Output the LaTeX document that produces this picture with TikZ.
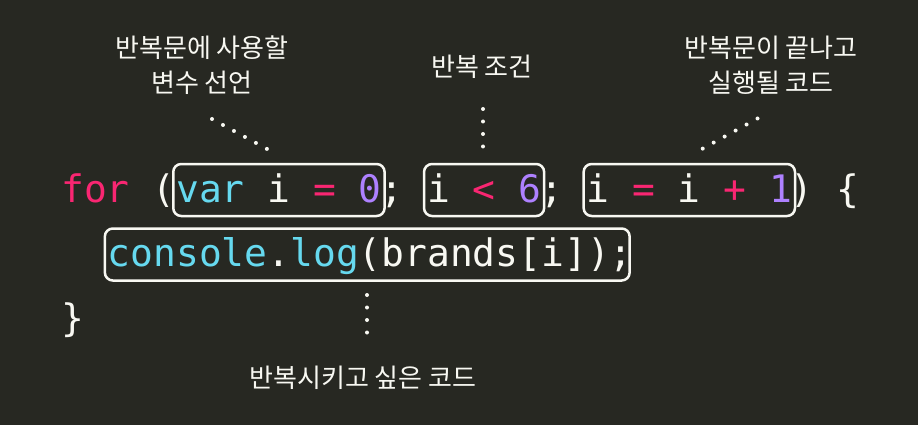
\documentclass[tikz,border=0pt]{standalone}
\usepackage{fontspec}
\newfontfamily\codefont{DejaVu Sans Mono}
\newfontfamily\kofont{Noto Sans CJK KR}
\usetikzlibrary{positioning}

\definecolor{bg}{RGB}{39,40,34}
\definecolor{codewhite}{RGB}{248,248,242}
\definecolor{codepink}{RGB}{249,38,114}
\definecolor{codecyan}{RGB}{102,217,239}
\definecolor{codepurple}{RGB}{174,129,255}

\newcommand{\kw}[1]{\textcolor{codepink}{#1}}
\newcommand{\ty}[1]{\textcolor{codecyan}{#1}}
\newcommand{\nm}[1]{\textcolor{codepurple}{#1}}
\newcommand{\cw}{22.8}

\tikzset{
  code/.style={font=\codefont\fontsize{37.9}{45}\selectfont, text=codewhite, inner sep=0pt, anchor=base west},
  codebox/.style={code, draw=codewhite, line width=2.5pt, rounded corners=8pt, inner xsep=3pt, inner ysep=4pt, text height=34pt, text depth=10pt},
  note/.style={font=\kofont\fontsize{26}{35}\selectfont, text=codewhite, align=center},
  leader/.style={draw=codewhite, line width=4pt, line cap=round, dash pattern=on 0pt off 12.5pt},
}

\begin{document}
\begin{tikzpicture}[x=1pt, y=-1pt]

\fill[bg] (0,0) rectangle (918,425);
\useasboundingbox (0,0) rectangle (918,425);

% code lines
\node[code] (head) at (61,202) {\kw{for} (};
\node[codebox] (init) at ({61+5*\cw-3},202) {\ty{var} i \kw{=} \nm{0}};
\node[code] (semia) at ({61+14*\cw},202) {;};
\node[codebox] (cond) at ({61+16*\cw-3},202) {i \kw{<} \nm{6}};
\node[code] (semib) at ({61+21*\cw},202) {;};
\node[codebox] (incr) at ({61+23*\cw-3},202) {i \kw{=} i \kw{+} \nm{1}};
\node[code] (tail) at ({61+32*\cw},202) {) \{};
\node[codebox] (body) at ({61+2*\cw-3},266.5) {\ty{console}.\ty{log}(brands[i]);\kern-6pt};
\node[code] (close) at (61,331) {\}};

% notes
\node[note] (initnote) at (202,65) {반복문에 사용할\\변수 선언};
\node[note] (condnote) at (482,67) {반복 조건};
\node[note] (incrnote) at (771,65) {반복문이 끝나고\\실행될 코드};
\node[note] (bodynote) at (363,378) {반복시키고 싶은 코드};

% dotted leaders
\coordinate (inita) at (212,119);
\coordinate (initb) at (268,149.5);
\coordinate (conda) at (483,109);
\coordinate (condb) at (483,148);
\coordinate (incra) at (757.5,118.5);
\coordinate (incrb) at (702,149);
\coordinate (bodya) at (367,295);
\coordinate (bodyb) at (367,333);

\draw[leader] (inita) -- (initb);
\draw[leader] (conda) -- (condb);
\draw[leader] (incra) -- (incrb);
\draw[leader] (bodya) -- (bodyb);

\end{tikzpicture}
\end{document}
